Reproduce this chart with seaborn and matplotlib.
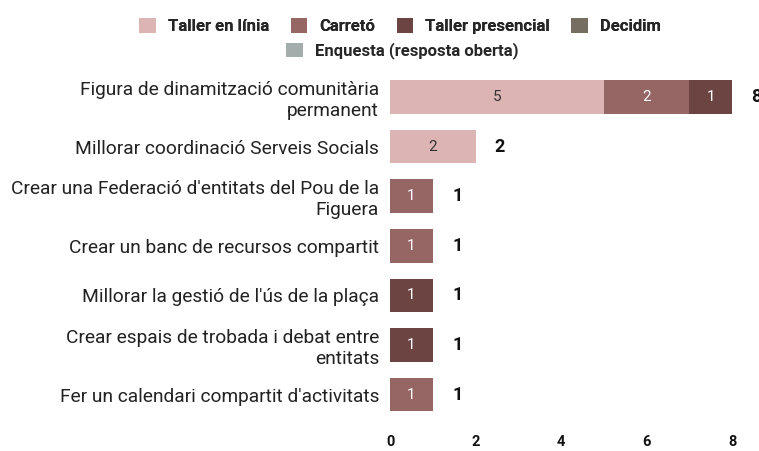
import numpy as np
import pandas as pd
import seaborn as sns
import matplotlib.pyplot as plt
from matplotlib.patches import Patch

# dades
categories = [
    "Figura de dinamització comunitària\npermanent",
    "Millorar coordinació Serveis Socials",
    "Crear una Federació d'entitats del Pou de la\nFiguera",
    "Crear un banc de recursos compartit",
    "Millorar la gestió de l'ús de la plaça",
    "Crear espais de trobada i debat entre\nentitats",
    "Fer un calendari compartit d'activitats",
]
series = ["Taller en línia", "Carretó", "Taller presencial", "Decidim", "Enquesta (resposta oberta)"]
taller_linia = [5, 2, 0, 0, 0, 0, 0]
carreto = [2, 0, 1, 1, 0, 0, 1]
taller_presencial = [1, 0, 0, 0, 1, 1, 0]
decidim = [0, 0, 0, 0, 0, 0, 0]
enquesta = [0, 0, 0, 0, 0, 0, 0]
colors = ["#dbb4b3", "#956664", "#6c4543", "#766e60", "#a3aeac"]
text_colors = ["#333333", "white", "white", "white", "#333333"]

sns.set_theme(style="white")
plt.rcParams['font.family'] = ['Roboto', 'DejaVu Sans']

df = pd.DataFrame({"cat": categories})
vals = [taller_linia, carreto, taller_presencial, decidim, enquesta]
for s, v in zip(series, vals):
    df[s] = v
cum = df[series].cumsum(axis=1)

fig = plt.figure(figsize=(7.59, 4.51), dpi=100)
ax = fig.add_axes([0.514, 0.07, 0.486, 0.77])

# barres apilades: de la suma total cap a la primera sèrie
for i in range(len(series) - 1, -1, -1):
    sns.barplot(x=cum[series[i]], y=df["cat"], color=colors[i], orient="h",
                width=0.68, ax=ax, saturation=1, linewidth=0)

# etiquetes dins els segments
for i, s in enumerate(series):
    for j in range(len(df)):
        v = df[s].iloc[j]
        if v > 0:
            start = cum[s].iloc[j] - v
            ax.text(start + v / 2, j, str(v), ha="center", va="center",
                    color=text_colors[i], fontsize=11)

totals = cum[series[-1]]
for j, t in enumerate(totals):
    ax.text(t + 0.45, j, str(t), ha="left", va="center", fontsize=13,
            fontweight="bold", color="#111111")

ax.set_xlim(0, 8.63)
ax.set_ylim(6.5, -0.5)
ax.set_xticks([0, 2, 4, 6, 8])
ax.set_xlabel("")
ax.set_ylabel("")
ax.tick_params(axis="x", length=0, pad=11, labelsize=10.5)
ax.tick_params(axis="y", length=0, pad=8, labelsize=13.8)
for lab in ax.get_xticklabels():
    lab.set_fontweight("bold")
    lab.set_color("#111111")
for lab in ax.get_yticklabels():
    lab.set_ha("right")
    lab.set_color("#222222")
    lab.set_multialignment("right")
sns.despine(ax=ax, left=True, bottom=True)

handles = [Patch(facecolor=c, edgecolor="none") for c in colors]
leg_font = {"weight": "bold", "size": 12}
leg1 = fig.legend(handles[:4], series[:4], loc="center", bbox_to_anchor=(0.527, 0.943),
                  ncol=4, frameon=False, prop=leg_font, handlelength=1.0,
                  handleheight=1.0, columnspacing=1.3, handletextpad=0.7)
fig.add_artist(leg1)
fig.legend(handles[4:], series[4:], loc="center", bbox_to_anchor=(0.53, 0.887),
           ncol=1, frameon=False, prop=leg_font, handlelength=1.0,
           handleheight=1.0, handletextpad=0.7)

fig.savefig("out.png", dpi=100)
